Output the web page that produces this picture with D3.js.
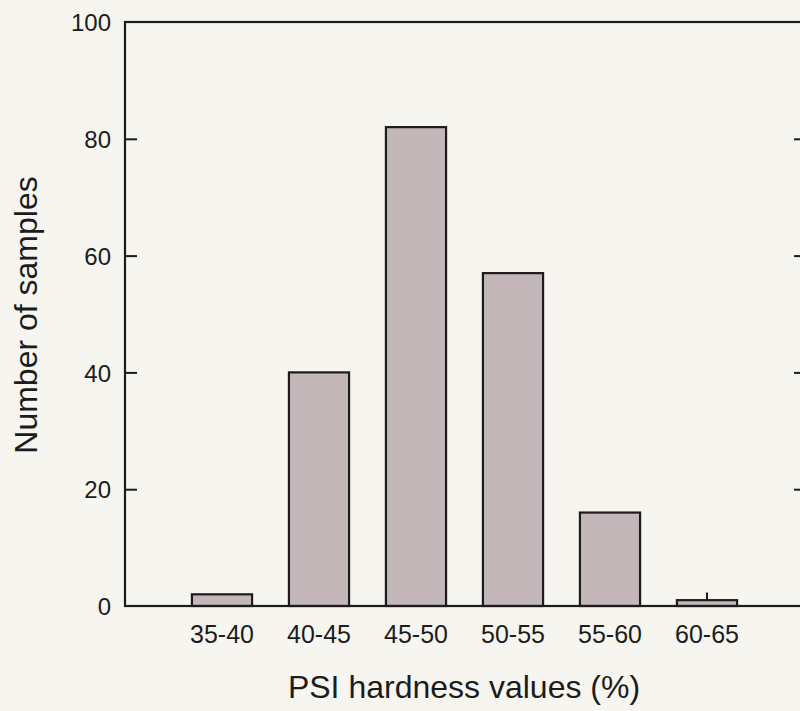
<!DOCTYPE html>
<html>
<head>
<meta charset="utf-8">
<script src="https://cdn.jsdelivr.net/npm/d3@7"></script>
<style>
  html, body { margin: 0; padding: 0; background: #f6f5f0; }
  svg { display: block; }
  text { font-family: "Liberation Sans", Arial, sans-serif; fill: #1c1c1c; }
</style>
</head>
<body>
<svg id="chart" width="800" height="711"></svg>
<script>
// PSI hardness class counts
const categories = ["35-40", "40-45", "45-50", "50-55", "55-60", "60-65"];
const counts = [2, 40, 82, 57, 16, 1];
// small upward whisker drawn above a bar (null = none)
const whiskerTop = [null, null, null, null, null, 2.3];
const yTicks = [0, 20, 40, 60, 80, 100];

const svg = d3.select("#chart");
const plotLeft = 125, plotRight = 804, plotTop = 22, plotBottom = 606;

const step = (plotRight - plotLeft) / (categories.length + 1);
const x = d3.scaleBand()
  .domain(categories)
  .range([plotLeft + step / 2, plotRight - step / 2])
  .paddingInner(0.38)
  .paddingOuter(0.19);

const y = d3.scaleLinear().domain([0, 100]).range([plotBottom, plotTop]);

const ink = "#1c1c1c";

// bars
svg.append("g").selectAll("rect")
  .data(categories)
  .join("rect")
  .attr("x", d => x(d))
  .attr("y", (d, i) => y(counts[i]))
  .attr("width", x.bandwidth())
  .attr("height", (d, i) => y(0) - y(counts[i]))
  .attr("fill", "#c3b7b9")
  .attr("stroke", ink)
  .attr("stroke-width", 2.2);

// whiskers
svg.append("g").selectAll("line")
  .data(categories.filter((d, i) => whiskerTop[i] != null))
  .join("line")
  .attr("x1", d => x(d) + x.bandwidth() / 2)
  .attr("x2", d => x(d) + x.bandwidth() / 2)
  .attr("y1", d => y(counts[categories.indexOf(d)]))
  .attr("y2", d => y(whiskerTop[categories.indexOf(d)]))
  .attr("stroke", ink)
  .attr("stroke-width", 2);

// frame
svg.append("rect")
  .attr("x", plotLeft).attr("y", plotTop)
  .attr("width", plotRight - plotLeft).attr("height", plotBottom - plotTop)
  .attr("fill", "none")
  .attr("stroke", ink)
  .attr("stroke-width", 2.2);

// left axis: inward ticks
const yAxisL = d3.axisLeft(y).tickValues(yTicks).tickSize(-12).tickPadding(14);
const gL = svg.append("g").attr("transform", `translate(${plotLeft},0)`).call(yAxisL);
gL.select(".domain").remove();
gL.selectAll(".tick line").attr("stroke", ink).attr("stroke-width", 2)
  .filter(d => d === 0 || d === 100).remove();
gL.selectAll(".tick text").attr("font-size", 24).style("font-family", "Liberation Sans, Arial, sans-serif")
  .attr("fill", ink).attr("dy", "0.36em");

// right axis: inward ticks, no labels
const yAxisR = d3.axisRight(y).tickValues(yTicks).tickSize(-10).tickFormat("");
const gR = svg.append("g").attr("transform", `translate(${plotRight},0)`).call(yAxisR);
gR.select(".domain").remove();
gR.selectAll(".tick line").attr("stroke", ink).attr("stroke-width", 2)
  .filter(d => d === 0 || d === 100).remove();

// category labels
const xAxis = d3.axisBottom(x).tickSize(0).tickPadding(19);
const gX = svg.append("g").attr("transform", `translate(0,${plotBottom})`).call(xAxis);
gX.select(".domain").remove();
gX.selectAll(".tick text").attr("font-size", 25).style("font-family", "Liberation Sans, Arial, sans-serif")
  .attr("fill", ink);

// axis titles
svg.append("text")
  .attr("x", 464).attr("y", 698)
  .attr("text-anchor", "middle")
  .attr("font-size", 32)
  .text("PSI hardness values (%)");

svg.append("text")
  .attr("transform", "translate(37,315) rotate(-90)")
  .attr("text-anchor", "middle")
  .attr("font-size", 32)
  .text("Number of samples");
</script>
</body>
</html>
